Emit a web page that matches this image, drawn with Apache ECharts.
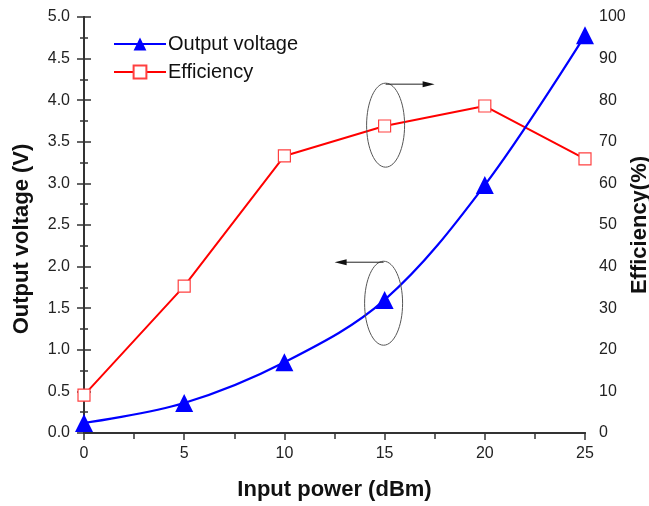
<!DOCTYPE html>
<html>
<head>
<meta charset="utf-8">
<script src="https://cdn.jsdelivr.net/npm/echarts@6/dist/echarts.min.js"></script>
<style>
  html, body { margin: 0; padding: 0; background: #fff; }
  #chart { width: 649px; height: 506px; }
</style>
</head>
<body>
<div id="chart"></div>
<script>
const inputPower = [0, 5, 10, 15, 20, 25];
const outputVoltage = [0.12, 0.36, 0.85, 1.6, 2.98, 4.78];
const efficiency = [9.1, 35.3, 66.6, 73.8, 78.6, 65.9];

const font = "Liberation Sans, Arial, sans-serif";
const axisColor = "#333";

const chart = echarts.init(document.getElementById("chart"));

const tickLabel = { fontFamily: font, fontSize: 16, color: "#222" };
const nameStyle = { fontFamily: font, fontSize: 22, fontWeight: "bold", color: "#111" };

chart.setOption({
  animation: false,
  grid: { left: 84, right: 64, top: 17, bottom: 73, outerBoundsMode: "none", containLabel: false },
  legend: {
    left: 108,
    top: 29,
    orient: "vertical",
    itemWidth: 52,
    itemHeight: 16,
    itemGap: 8,
    textStyle: { fontFamily: font, fontSize: 20, color: "#111", padding: [0, 0, 0, -3] },
    data: ["Output voltage", "Efficiency"],
  },
  xAxis: [
    {
      type: "value",
      min: 0,
      max: 25,
      interval: 5,
      name: "Input power (dBm)",
      nameLocation: "middle",
      nameGap: 46,
      nameMoveOverlap: false,
      nameTextStyle: nameStyle,
      axisLine: { lineStyle: { color: axisColor, width: 2 } },
      axisTick: { length: 7, lineStyle: { color: axisColor, width: 1.5 } },
      minorTick: { show: true, splitNumber: 2, length: 4, lineStyle: { color: axisColor, width: 1.5 } },
      axisLabel: Object.assign({ margin: 13 }, tickLabel),
      splitLine: { show: false },
    },
    {
      // top frame with inner ticks
      type: "value",
      position: "top",
      min: 0,
      max: 25,
      interval: 5,
      axisLine: { lineStyle: { color: axisColor, width: 2 } },
      axisTick: { inside: true, length: 7, lineStyle: { color: axisColor, width: 1.5 } },
      minorTick: { show: true, splitNumber: 2, length: 6, lineStyle: { color: axisColor, width: 1.5 } },
      axisLabel: { show: false },
      splitLine: { show: false },
    },
  ],
  yAxis: [
    {
      type: "value",
      min: 0,
      max: 5,
      interval: 0.5,
      name: "Output voltage (V)",
      nameLocation: "middle",
      nameGap: 51,
      nameMoveOverlap: false,
      nameTextStyle: Object.assign({ padding: [0, 28, 0, 0] }, nameStyle),
      axisLine: { show: true, lineStyle: { color: axisColor, width: 2 } },
      axisTick: { show: true, length: 7, lineStyle: { color: axisColor, width: 1.5 } },
      minorTick: { show: true, splitNumber: 2, length: 4, lineStyle: { color: axisColor, width: 1.5 } },
      axisLabel: Object.assign({ margin: 14, formatter: (v) => v.toFixed(1) }, tickLabel),
      splitLine: { show: false },
    },
    {
      type: "value",
      position: "right",
      min: 0,
      max: 100,
      interval: 10,
      name: "Efficiency(%)",
      nameLocation: "middle",
      nameGap: 44,
      nameMoveOverlap: false,
      nameTextStyle: nameStyle,
      axisLine: { show: true, lineStyle: { color: axisColor, width: 2 } },
      axisTick: { show: true, length: 7, lineStyle: { color: axisColor, width: 1.5 } },
      minorTick: { show: true, splitNumber: 2, length: 4, lineStyle: { color: axisColor, width: 1.5 } },
      axisLabel: Object.assign({ margin: 14 }, tickLabel),
      splitLine: { show: false },
    },
  ],
  series: [
    {
      name: "Output voltage",
      type: "line",
      yAxisIndex: 0,
      smooth: 0.35,
      data: inputPower.map((x, i) => [x, outputVoltage[i]]),
      symbol: "triangle",
      symbolSize: 18,
      itemStyle: { color: "#0000ff" },
      lineStyle: { color: "#0000ff", width: 2.2 },
      z: 3,
    },
    {
      name: "Efficiency",
      type: "line",
      yAxisIndex: 1,
      data: inputPower.map((x, i) => [x, efficiency[i]]),
      symbol: "rect",
      symbolSize: 12,
      itemStyle: { color: "#fff", borderColor: "#ff4040", borderWidth: 1.2 },
      lineStyle: { color: "#ff0000", width: 2 },
      z: 2,
    },
  ],
});

// ellipse + arrow callouts pointing at the axis each curve belongs to
function callout(pt, yAxisIndex, dir) {
  const p = chart.convertToPixel({ xAxisIndex: 0, yAxisIndex: yAxisIndex }, pt);
  const cx = p[0] + 1, cy = p[1], rx = 19, ry = 42;
  const y0 = cy - ry + 1;
  const x1 = cx + dir * 49;
  return [
    { type: "ellipse", shape: { cx: cx, cy: cy, rx: rx, ry: ry }, style: { fill: null, stroke: "#555", lineWidth: 1 }, z: 10 },
    { type: "line", shape: { x1: cx, y1: y0, x2: x1 - dir * 8, y2: y0 }, style: { stroke: "#222", lineWidth: 1 }, z: 10 },
    { type: "polygon", shape: { points: [[x1, y0], [x1 - dir * 12, y0 - 3], [x1 - dir * 12, y0 + 3]] }, style: { fill: "#111" }, z: 10 },
  ];
}

chart.setOption({
  graphic: [].concat(callout([15, 74], 1, 1), callout([14.9, 1.56], 0, -1)),
});
</script>
</body>
</html>
